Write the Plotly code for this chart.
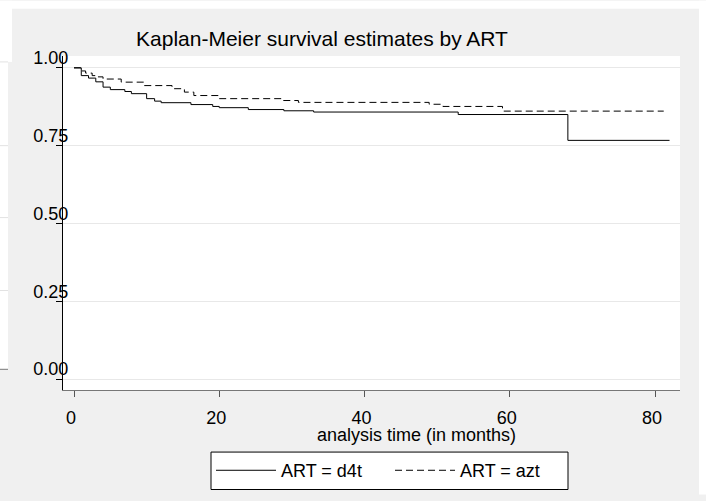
import plotly.graph_objects as go

# Kaplan-Meier step data (time in months, survival probability)
d4t_time = [0, 1.0, 2.0, 3.0, 4.0, 5.0, 7.0, 7.9, 10.0, 11.1, 12.0, 16.1, 19.1, 20.0, 24.0, 28.9, 33.0, 52.9, 68.0, 82.0]
d4t_surv = [1.0, 0.975, 0.967, 0.955, 0.938, 0.930, 0.924, 0.917, 0.901, 0.893, 0.888, 0.882, 0.876, 0.872, 0.866, 0.862, 0.858, 0.850, 0.767, 0.767]

azt_time = [0, 0.9, 1.6, 2.5, 3.0, 4.0, 6.5, 9.6, 13.5, 15.2, 16.5, 20.0, 28.8, 30.9, 48.9, 50.8, 59.0, 81.2]
azt_surv = [1.0, 0.990, 0.983, 0.975, 0.971, 0.964, 0.954, 0.943, 0.933, 0.922, 0.911, 0.901, 0.895, 0.889, 0.883, 0.876, 0.861, 0.861]

y_ticks = [0, 0.25, 0.5, 0.75, 1.0]
y_labels = ["0.00", "0.25", "0.50", "0.75", "1.00"]
x_ticks = [0, 20, 40, 60, 80]

FONT = "Liberation Sans, Arial, sans-serif"
W, H = 706, 501
L, R, T, B = 63, 26, 56, 106
PW, PH = W - L - R, H - T - B

def px(x):
    return (x - L) / PW

def py(y):
    return (H - B - y) / PH

fig = go.Figure()
fig.add_trace(go.Scatter(x=d4t_time, y=d4t_surv, mode="lines", line_shape="hv",
                         line=dict(color="black", width=1), name="ART = d4t"))
fig.add_trace(go.Scatter(x=azt_time, y=azt_surv, mode="lines", line_shape="hv",
                         line=dict(color="black", width=1, dash="7px,4px"), name="ART = azt"))

shapes = []
# white remnants around the grey page
shapes.append(dict(type="rect", xref="paper", yref="paper", x0=px(0), x1=px(W), y0=py(0), y1=py(8),
                   fillcolor="white", line=dict(width=0), layer="below"))
shapes.append(dict(type="rect", xref="paper", yref="paper", x0=px(699), x1=px(W), y0=py(0), y1=py(H),
                   fillcolor="white", line=dict(width=0), layer="below"))
shapes.append(dict(type="rect", xref="paper", yref="paper", x0=px(0), x1=px(12), y0=py(0), y1=py(62),
                   fillcolor="white", line=dict(width=0), layer="below"))
shapes.append(dict(type="rect", xref="paper", yref="paper", x0=px(0), x1=px(8), y0=py(62), y1=py(374),
                   fillcolor="white", line=dict(width=0), layer="below"))
for yy in [62, 147, 220, 294]:
    shapes.append(dict(type="line", xref="paper", yref="paper", x0=px(0), x1=px(8), y0=py(yy), y1=py(yy),
                       line=dict(color="#e2e2e2", width=1), layer="below"))
shapes.append(dict(type="line", xref="paper", yref="paper", x0=px(0), x1=px(8), y0=py(374), y1=py(374),
                   line=dict(color="#777777", width=1), layer="below"))
# legend frame
shapes.append(dict(type="rect", xref="paper", yref="paper", x0=px(211), x1=px(568), y0=py(458), y1=py(496),
                   fillcolor="white", line=dict(color="black", width=1), layer="below"))

fig.update_layout(
    width=W, height=H,
    margin=dict(l=L, r=R, t=T, b=B, pad=0),
    paper_bgcolor="#f0f0f0",
    plot_bgcolor="white",
    font=dict(family=FONT, size=18, color="black"),
    title=dict(text="Kaplan-Meier survival estimates by ART", font=dict(size=21, color="black"),
               x=px(322), xanchor="center", xref="paper", y=1 - 39 / H, yanchor="middle"),
    xaxis=dict(range=[-1.515, 83.44], tickvals=x_ticks, ticks="outside", ticklen=6,
               tickcolor="#555555", showline=True, linecolor="#777777", linewidth=1,
               showgrid=False, zeroline=False, tickfont=dict(size=18),
               ticklabelstandoff=5, ticklabelshift=-3),
    yaxis=dict(range=[-0.0348, 1.038], tickvals=y_ticks, ticktext=y_labels, ticks="outside",
               ticklen=6, tickcolor="black", showline=True, linecolor="black", linewidth=1,
               showgrid=True, gridcolor="#e8e8e8", gridwidth=1, zeroline=False,
               tickfont=dict(size=18), ticklabelshift=-10, ticklabelstandoff=-16),
    legend=dict(orientation="h", x=px(211), y=py(458), xanchor="left", yanchor="top",
                bgcolor="rgba(0,0,0,0)", borderwidth=0,
                font=dict(size=18), itemwidth=60, entrywidth=104, traceorder="normal"),
    shapes=shapes,
    annotations=[dict(text="analysis time (in months)", xref="paper", yref="paper",
                      x=px(417), y=py(441), xanchor="center", yanchor="middle",
                      showarrow=False, font=dict(size=18))],
)

fig.write_html("out.html")
